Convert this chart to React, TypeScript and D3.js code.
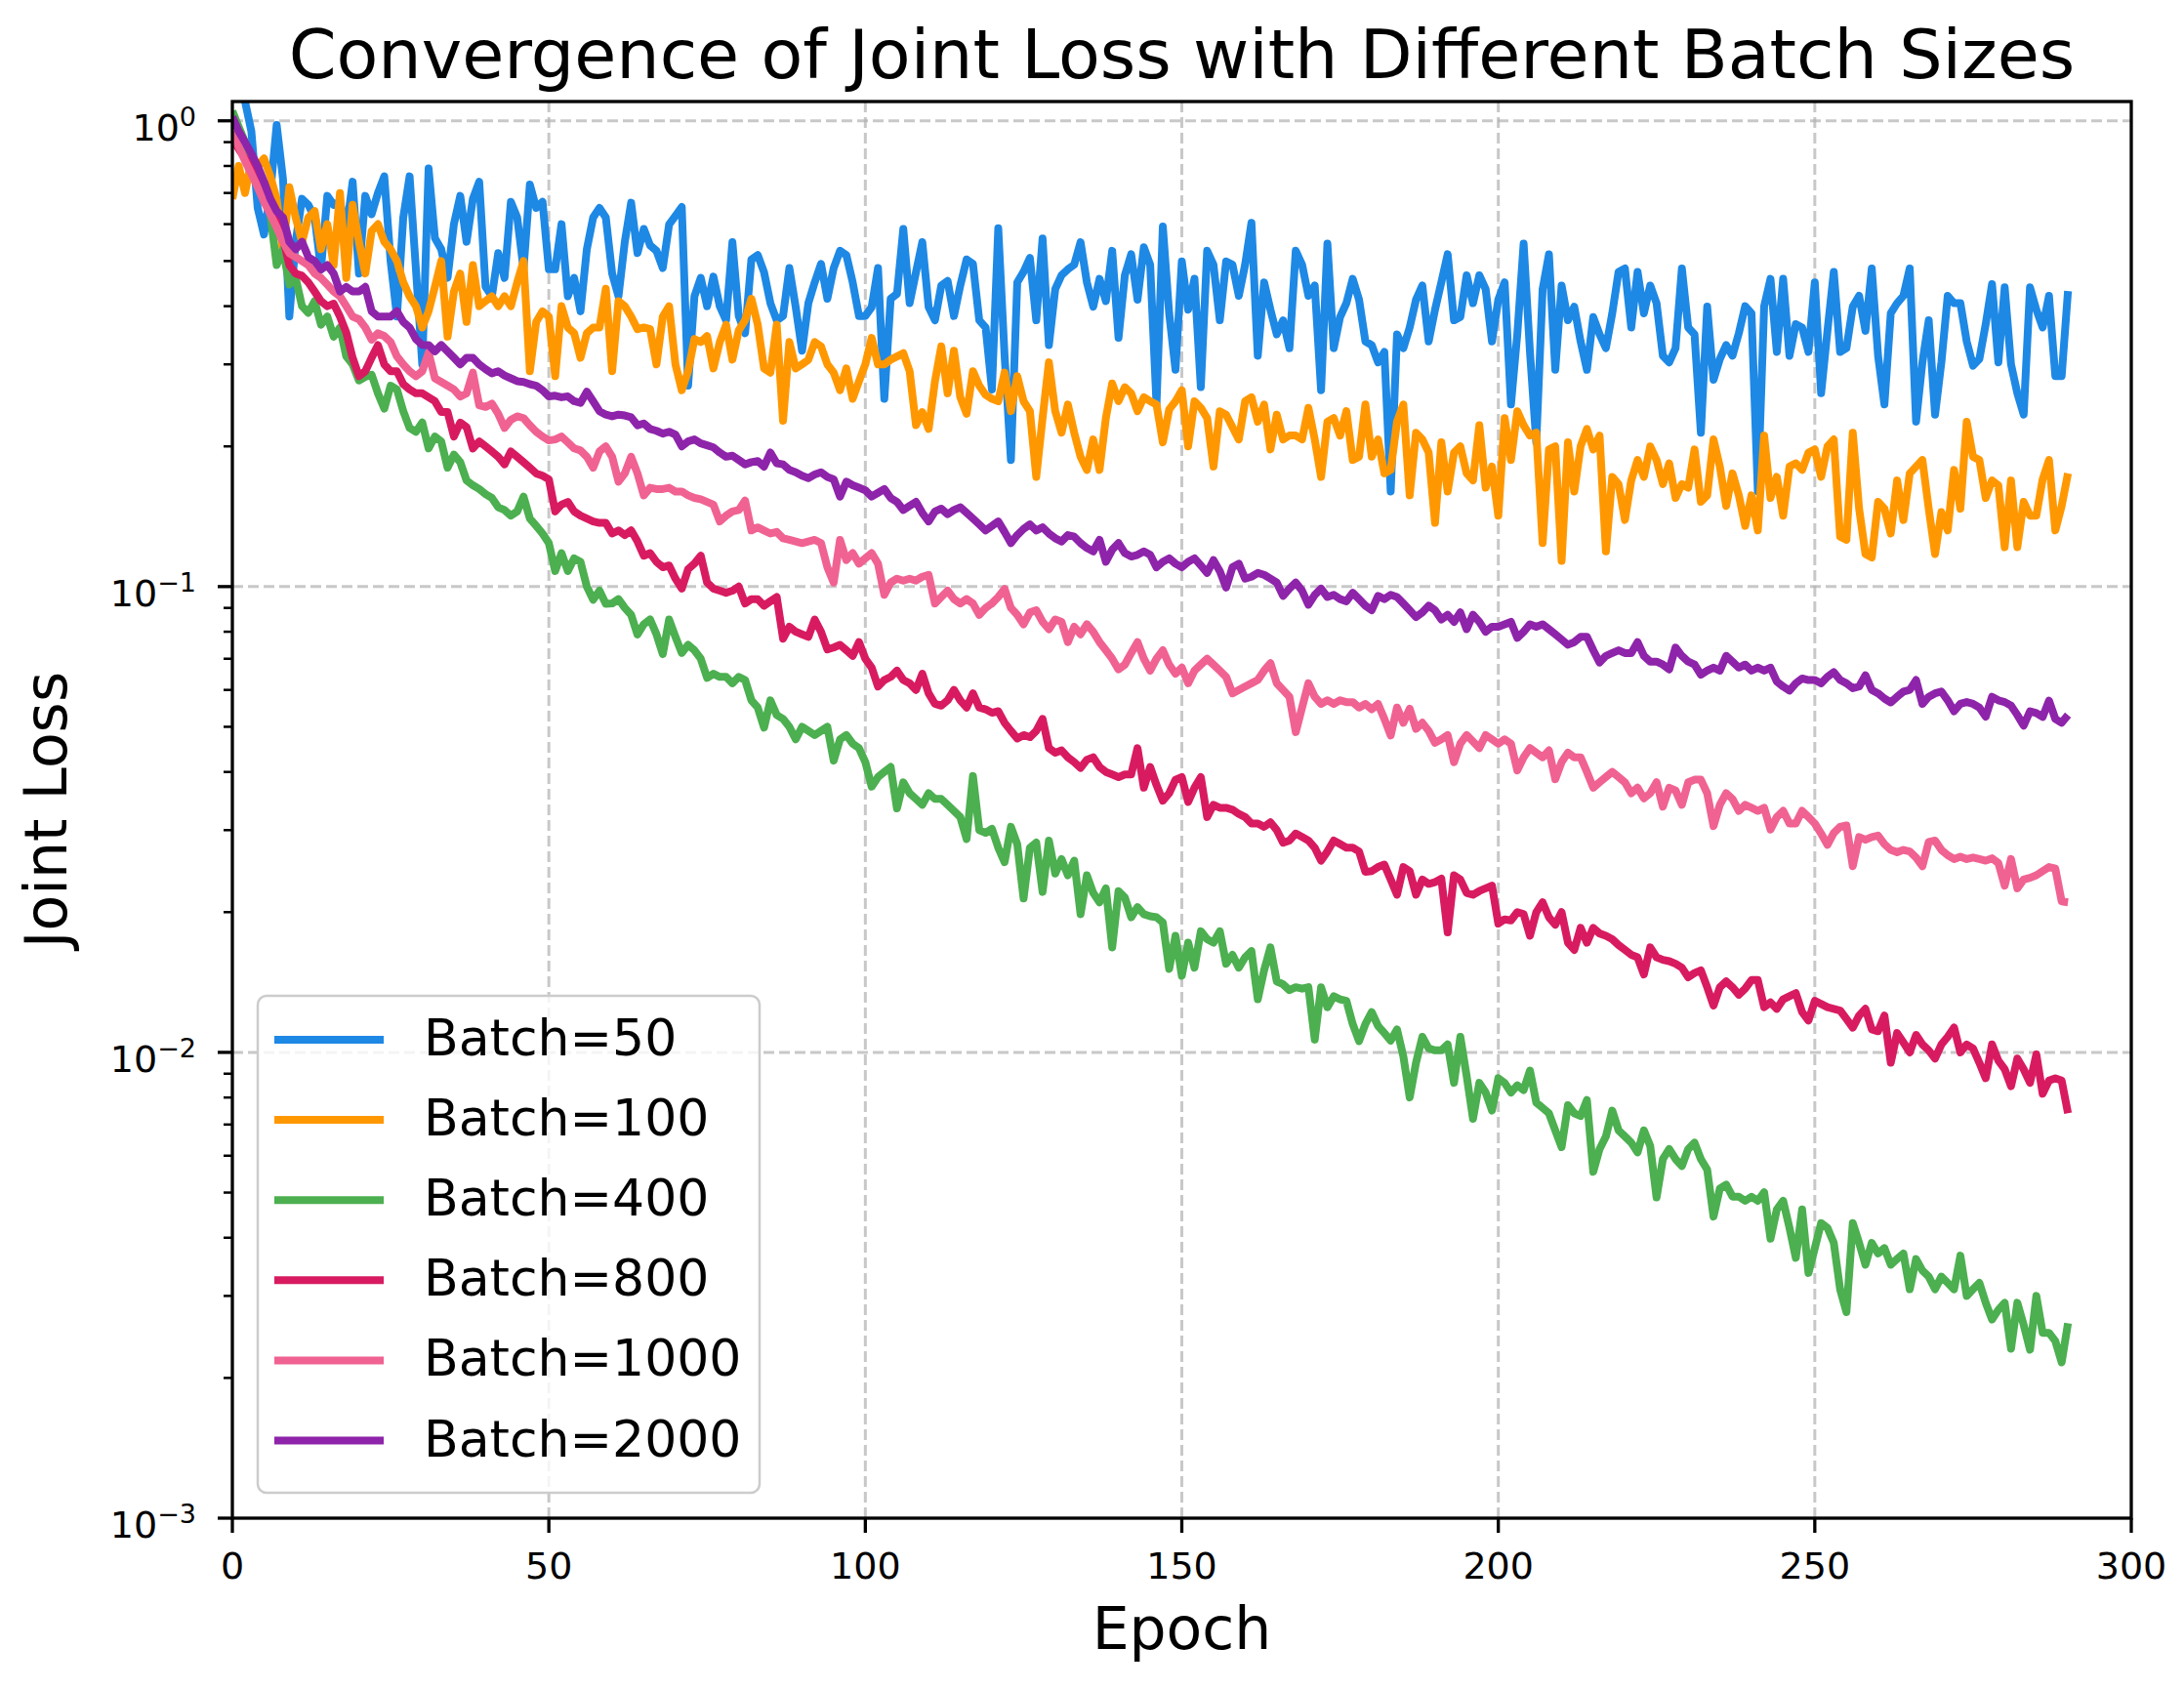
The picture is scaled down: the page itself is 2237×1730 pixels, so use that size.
import * as d3 from 'd3'

// loss per epoch (epochs 0..290)
const batch50 = [
  1.2, 1.25, 1.1, 0.95, 0.65, 0.57, 0.70, 0.98, 0.75, 0.38,
  0.55, 0.68, 0.66, 0.62, 0.48, 0.69, 0.66, 0.67, 0.58, 0.74,
  0.47, 0.69, 0.63, 0.70, 0.76, 0.50, 0.38, 0.62, 0.76, 0.48,
  0.30, 0.79, 0.56, 0.53, 0.46, 0.60, 0.69, 0.55, 0.68, 0.74,
  0.44, 0.42, 0.52, 0.46, 0.67, 0.62, 0.48, 0.73, 0.65, 0.67,
  0.48, 0.48, 0.60, 0.42, 0.46, 0.39, 0.53, 0.62, 0.65, 0.62,
  0.47, 0.42, 0.55, 0.667, 0.52, 0.586, 0.54, 0.526, 0.483, 0.599,
  0.625, 0.653, 0.27, 0.42, 0.46, 0.40, 0.463, 0.40, 0.373, 0.549,
  0.381, 0.35, 0.504, 0.515, 0.473, 0.406, 0.373, 0.381, 0.483, 0.398,
  0.321, 0.406, 0.45, 0.493, 0.415, 0.483, 0.526, 0.515, 0.45, 0.381,
  0.381, 0.398, 0.483, 0.253, 0.415, 0.425, 0.586, 0.406, 0.473, 0.549,
  0.398, 0.373, 0.443, 0.453, 0.381, 0.443, 0.504, 0.493, 0.373, 0.36,
  0.265, 0.588, 0.313, 0.187, 0.45, 0.474, 0.508, 0.373, 0.559, 0.33,
  0.435, 0.466, 0.48, 0.491, 0.549, 0.45, 0.399, 0.458, 0.41, 0.526,
  0.342, 0.466, 0.517, 0.413, 0.535, 0.491, 0.246, 0.593, 0.386, 0.292,
  0.499, 0.393, 0.458, 0.268, 0.526, 0.491, 0.373, 0.499, 0.491, 0.421,
  0.491, 0.604, 0.313, 0.45, 0.393, 0.348, 0.373, 0.325, 0.526, 0.491,
  0.421, 0.443, 0.264, 0.545, 0.325, 0.379, 0.406, 0.458, 0.413, 0.336,
  0.33, 0.303, 0.319, 0.16, 0.348, 0.325, 0.36, 0.413, 0.443, 0.336,
  0.393, 0.45, 0.517, 0.373, 0.379, 0.466, 0.406, 0.466, 0.435, 0.336,
  0.413, 0.45, 0.246, 0.348, 0.545, 0.319, 0.204, 0.435, 0.517, 0.292,
  0.443, 0.373, 0.399, 0.336, 0.292, 0.379, 0.348, 0.325, 0.386, 0.474,
  0.482, 0.36, 0.474, 0.386, 0.443, 0.406, 0.313, 0.303, 0.325, 0.482,
  0.36, 0.348, 0.214, 0.399, 0.278, 0.308, 0.33, 0.313, 0.35, 0.40,
  0.386, 0.16, 0.40, 0.458, 0.319, 0.458, 0.313, 0.366, 0.36, 0.319,
  0.45, 0.26, 0.354, 0.474, 0.319, 0.325, 0.399, 0.421, 0.354, 0.482,
  0.313, 0.246, 0.386, 0.406, 0.421, 0.482, 0.226, 0.303, 0.373, 0.234,
  0.303, 0.421, 0.406, 0.406, 0.336, 0.298, 0.308, 0.366, 0.446, 0.303,
  0.439, 0.30, 0.26, 0.234, 0.439, 0.393, 0.36, 0.421, 0.283, 0.283,
  0.431,
]

const batch100 = [
  0.68, 0.80, 0.70, 0.82, 0.80, 0.83, 0.76, 0.68, 0.52, 0.72,
  0.62, 0.55, 0.62, 0.64, 0.53, 0.60, 0.49, 0.70, 0.46, 0.66,
  0.55, 0.47, 0.58, 0.60, 0.55, 0.53, 0.50, 0.45, 0.42, 0.40,
  0.36, 0.39, 0.44, 0.50, 0.344, 0.43, 0.47, 0.37, 0.49, 0.40,
  0.41, 0.42, 0.40, 0.42, 0.40, 0.45, 0.50, 0.29, 0.37, 0.39,
  0.38, 0.283, 0.40, 0.36, 0.35, 0.31, 0.35, 0.36, 0.36, 0.436,
  0.29, 0.41, 0.40, 0.38, 0.357, 0.36, 0.357, 0.30, 0.38, 0.40,
  0.30, 0.264, 0.29, 0.34, 0.335, 0.345, 0.294, 0.335, 0.365, 0.307,
  0.355, 0.373, 0.415, 0.365, 0.294, 0.288, 0.365, 0.227, 0.335, 0.294,
  0.30, 0.307, 0.335, 0.328, 0.30, 0.288, 0.264, 0.294, 0.253, 0.276,
  0.30, 0.342, 0.30, 0.30, 0.307, 0.312, 0.317, 0.29, 0.222, 0.237,
  0.218, 0.276, 0.328, 0.26, 0.321, 0.255, 0.235, 0.29, 0.27, 0.258,
  0.253, 0.25, 0.288, 0.238, 0.283, 0.25, 0.238, 0.172, 0.23, 0.303,
  0.238, 0.214, 0.246, 0.214, 0.19, 0.178, 0.207, 0.178, 0.23, 0.273,
  0.25, 0.268, 0.26, 0.238, 0.255, 0.25, 0.246, 0.204, 0.24, 0.25,
  0.264, 0.2, 0.25, 0.242, 0.23, 0.181, 0.238, 0.234, 0.22, 0.207,
  0.25, 0.255, 0.226, 0.246, 0.197, 0.234, 0.207, 0.211, 0.211, 0.207,
  0.242, 0.207, 0.172, 0.226, 0.23, 0.211, 0.238, 0.187, 0.19, 0.246,
  0.19, 0.207, 0.175, 0.178, 0.226, 0.246, 0.157, 0.214, 0.207, 0.194,
  0.137, 0.204, 0.16, 0.194, 0.2, 0.175, 0.169, 0.222, 0.163, 0.181,
  0.142, 0.23, 0.187, 0.238, 0.222, 0.211, 0.214, 0.124, 0.197, 0.2,
  0.1135, 0.204, 0.16, 0.2, 0.218, 0.197, 0.211, 0.119, 0.172, 0.166,
  0.139, 0.169, 0.187, 0.172, 0.2, 0.187, 0.166, 0.184, 0.155, 0.166,
  0.163, 0.197, 0.152, 0.157, 0.207, 0.181, 0.149, 0.175, 0.157, 0.135,
  0.157, 0.132, 0.211, 0.155, 0.172, 0.142, 0.181, 0.184, 0.178, 0.194,
  0.197, 0.172, 0.2, 0.207, 0.128, 0.126, 0.214, 0.147, 0.1175, 0.1155,
  0.152, 0.147, 0.13, 0.169, 0.139, 0.175, 0.181, 0.187, 0.147, 0.1175,
  0.1445, 0.132, 0.178, 0.147, 0.226, 0.19, 0.187, 0.155, 0.169, 0.165,
  0.1215, 0.169, 0.1215, 0.152, 0.142, 0.142, 0.17, 0.187, 0.132, 0.149,
  0.175,
]

const batch400 = [
  1.05, 0.97, 0.90, 0.83, 0.76, 0.70, 0.63, 0.49, 0.53, 0.445,
  0.46, 0.40, 0.387, 0.41, 0.365, 0.38, 0.344, 0.36, 0.312, 0.30,
  0.277, 0.282, 0.285, 0.26, 0.241, 0.27, 0.265, 0.238, 0.219, 0.215,
  0.225, 0.198, 0.21, 0.205, 0.18, 0.192, 0.185, 0.169, 0.165, 0.162,
  0.158, 0.155, 0.148, 0.146, 0.142, 0.145, 0.156, 0.14, 0.135, 0.13,
  0.124, 0.108, 0.118, 0.108, 0.115, 0.113, 0.1, 0.0937, 0.098, 0.0918,
  0.092, 0.094, 0.09, 0.087, 0.0789, 0.083, 0.085, 0.079, 0.0716, 0.085,
  0.078, 0.072, 0.075, 0.073, 0.07, 0.0637, 0.065, 0.064, 0.064, 0.062,
  0.064, 0.063, 0.057, 0.055, 0.0498, 0.057, 0.053, 0.052, 0.05, 0.047,
  0.05, 0.049, 0.048, 0.049, 0.05, 0.0423, 0.047, 0.048, 0.046, 0.045,
  0.042, 0.0372, 0.039, 0.04, 0.041, 0.0334, 0.038, 0.036, 0.035, 0.034,
  0.036, 0.035, 0.035, 0.034, 0.033, 0.032, 0.0287, 0.0392, 0.03, 0.0296,
  0.0302, 0.0275, 0.0256, 0.0305, 0.028, 0.0214, 0.0275, 0.0282, 0.0221, 0.0285,
  0.0242, 0.026, 0.024, 0.0258, 0.0198, 0.024, 0.022, 0.021, 0.0225, 0.0168,
  0.0222, 0.0215, 0.0195, 0.0205, 0.0198, 0.0196, 0.0195, 0.019, 0.0151, 0.0178,
  0.0146, 0.0172, 0.0152, 0.0182, 0.0175, 0.0172, 0.0182, 0.0155, 0.0162, 0.0152,
  0.016, 0.0165, 0.013, 0.015, 0.0168, 0.0142, 0.014, 0.0136, 0.0138, 0.0137,
  0.0138, 0.01065, 0.0138, 0.0125, 0.0132, 0.013, 0.0129, 0.0115, 0.01057, 0.0115,
  0.0122, 0.0114, 0.011, 0.0106, 0.0112, 0.0098, 0.008, 0.0095, 0.0108, 0.0102,
  0.0101, 0.0101, 0.0104, 0.0086, 0.0108, 0.0089, 0.0072, 0.0086, 0.0082, 0.0075,
  0.0088, 0.0086, 0.0082, 0.0085, 0.0083, 0.00914, 0.0078, 0.0076, 0.0074, 0.0068,
  0.00626, 0.0077, 0.0074, 0.0073, 0.0079, 0.00554, 0.0062, 0.0066, 0.0075, 0.0068,
  0.0066, 0.0064, 0.0061, 0.0068, 0.0063, 0.00488, 0.0059, 0.0062, 0.0059, 0.0057,
  0.0062, 0.0064, 0.0059, 0.0056, 0.00444, 0.0051, 0.0052, 0.0049, 0.0049, 0.0048,
  0.0049, 0.0048, 0.00501, 0.00398, 0.0046, 0.0048, 0.0042, 0.00362, 0.0046, 0.00336,
  0.0038, 0.0043, 0.0042, 0.0039, 0.0031, 0.00277, 0.0043, 0.0039, 0.0035, 0.0039,
  0.0037, 0.0038, 0.0035, 0.0036, 0.0037, 0.0031, 0.0036, 0.0034, 0.0033, 0.0031,
  0.0033, 0.0032, 0.0031, 0.00366, 0.003, 0.0031, 0.0032, 0.0029, 0.00267, 0.0028,
  0.0029, 0.00231, 0.0029, 0.0026, 0.0023, 0.003, 0.0025, 0.0025, 0.0024, 0.00216,
  0.00262,
]

const batch800 = [
  0.92, 0.87, 0.83, 0.80, 0.76, 0.70, 0.66, 0.63, 0.56, 0.49,
  0.47, 0.465, 0.45, 0.43, 0.41, 0.40, 0.405, 0.38, 0.351, 0.31,
  0.283, 0.29, 0.31, 0.33, 0.30, 0.29, 0.29, 0.272, 0.265, 0.26,
  0.26, 0.255, 0.25, 0.237, 0.237, 0.21, 0.225, 0.22, 0.198, 0.205,
  0.20, 0.195, 0.19, 0.183, 0.195, 0.19, 0.185, 0.18, 0.175, 0.173,
  0.17, 0.145, 0.15, 0.152, 0.145, 0.142, 0.14, 0.138, 0.137, 0.137,
  0.13, 0.132, 0.129, 0.132, 0.125, 0.1165, 0.118, 0.113, 0.11, 0.111,
  0.104, 0.099, 0.109, 0.112, 0.1165, 0.102, 0.099, 0.098, 0.097, 0.098,
  0.1, 0.092, 0.094, 0.094, 0.091, 0.093, 0.095, 0.0773, 0.082, 0.08,
  0.079, 0.078, 0.085, 0.08, 0.0733, 0.074, 0.075, 0.073, 0.071, 0.076,
  0.07, 0.067, 0.061, 0.063, 0.064, 0.066, 0.063, 0.062, 0.06, 0.065,
  0.059, 0.056, 0.0555, 0.057, 0.06, 0.057, 0.055, 0.059, 0.055, 0.0545,
  0.0536, 0.054, 0.051, 0.049, 0.0472, 0.048, 0.0475, 0.049, 0.052, 0.045,
  0.044, 0.0445, 0.043, 0.042, 0.0408, 0.0425, 0.043, 0.041, 0.04, 0.0395,
  0.039, 0.0395, 0.0395, 0.045, 0.037, 0.041, 0.0375, 0.0347, 0.036, 0.0385,
  0.039, 0.0345, 0.037, 0.039, 0.032, 0.034, 0.0335, 0.0335, 0.0332, 0.0325,
  0.032, 0.031, 0.031, 0.0305, 0.0312, 0.03, 0.0282, 0.0285, 0.0295, 0.029,
  0.0285, 0.0275, 0.0258, 0.027, 0.0285, 0.028, 0.0275, 0.0275, 0.027, 0.0244,
  0.0245, 0.025, 0.0253, 0.0235, 0.0218, 0.025, 0.0245, 0.0218, 0.0235, 0.023,
  0.0232, 0.0236, 0.0181, 0.024, 0.0235, 0.022, 0.0218, 0.0222, 0.0225, 0.0228,
  0.0189, 0.0193, 0.0192, 0.02, 0.0198, 0.0178, 0.02, 0.021, 0.0195, 0.0188,
  0.02, 0.0172, 0.0166, 0.0185, 0.0172, 0.0185, 0.018, 0.0178, 0.0175, 0.017,
  0.0166, 0.0162, 0.016, 0.0147, 0.0168, 0.016, 0.0158, 0.0157, 0.0155, 0.0152,
  0.0145, 0.0148, 0.015, 0.0138, 0.0126, 0.0138, 0.0142, 0.0138, 0.0133, 0.0137,
  0.0143, 0.0143, 0.0125, 0.0128, 0.0124, 0.013, 0.0132, 0.0134, 0.0122, 0.0117,
  0.0129, 0.0127, 0.0125, 0.0124, 0.0123, 0.0118, 0.0113, 0.012, 0.0124, 0.0112,
  0.0111, 0.012, 0.0095, 0.011, 0.0105, 0.01, 0.0109, 0.0104, 0.0101, 0.0097,
  0.0104, 0.0108, 0.0113, 0.01, 0.0104, 0.0102, 0.0095, 0.0088, 0.0104, 0.0096,
  0.0092, 0.00846, 0.0097, 0.0092, 0.0086, 0.0099, 0.00815, 0.0087, 0.0088, 0.0087,
  0.0074,
]

const batch1000 = [
  0.95, 0.88, 0.82, 0.77, 0.72, 0.67, 0.63, 0.59, 0.55, 0.52,
  0.51, 0.50, 0.49, 0.47, 0.46, 0.445, 0.43, 0.42, 0.40, 0.38,
  0.375, 0.36, 0.339, 0.35, 0.345, 0.335, 0.312, 0.30, 0.29, 0.283,
  0.29, 0.318, 0.28, 0.275, 0.27, 0.265, 0.256, 0.26, 0.288, 0.245,
  0.243, 0.247, 0.235, 0.219, 0.228, 0.232, 0.23, 0.222, 0.215, 0.21,
  0.206, 0.207, 0.21, 0.204, 0.198, 0.196, 0.19, 0.18, 0.195, 0.20,
  0.19, 0.168, 0.175, 0.19, 0.175, 0.157, 0.163, 0.162, 0.162, 0.163,
  0.16, 0.16, 0.157, 0.155, 0.154, 0.152, 0.15, 0.138, 0.142, 0.145,
  0.146, 0.153, 0.132, 0.134, 0.132, 0.13, 0.131, 0.127, 0.126, 0.125,
  0.124, 0.125, 0.126, 0.124, 0.11, 0.102, 0.126, 0.114, 0.118, 0.112,
  0.115, 0.118, 0.112, 0.096, 0.102, 0.104, 0.103, 0.104, 0.103, 0.105,
  0.106, 0.092, 0.095, 0.098, 0.094, 0.092, 0.094, 0.092, 0.087, 0.09,
  0.092, 0.095, 0.0988, 0.09, 0.087, 0.083, 0.088, 0.089, 0.084, 0.081,
  0.085, 0.084, 0.076, 0.082, 0.079, 0.083, 0.08, 0.076, 0.073, 0.07,
  0.0664, 0.068, 0.072, 0.076, 0.07, 0.066, 0.07, 0.073, 0.068, 0.065,
  0.067, 0.062, 0.066, 0.068, 0.07, 0.068, 0.066, 0.064, 0.059, 0.06,
  0.061, 0.062, 0.063, 0.066, 0.0685, 0.062, 0.06, 0.058, 0.0487, 0.055,
  0.062, 0.058, 0.056, 0.057, 0.056, 0.057, 0.0565, 0.0565, 0.055, 0.056,
  0.0545, 0.056, 0.052, 0.0479, 0.055, 0.051, 0.0547, 0.0495, 0.051, 0.049,
  0.0462, 0.047, 0.048, 0.042, 0.046, 0.048, 0.0465, 0.045, 0.048, 0.047,
  0.046, 0.047, 0.046, 0.0403, 0.043, 0.045, 0.044, 0.043, 0.0445, 0.0386,
  0.042, 0.044, 0.043, 0.043, 0.04, 0.037, 0.038, 0.039, 0.04, 0.039,
  0.038, 0.036, 0.037, 0.0351, 0.036, 0.038, 0.0337, 0.037, 0.0365, 0.034,
  0.038, 0.0385, 0.0385, 0.036, 0.0306, 0.034, 0.036, 0.035, 0.033, 0.034,
  0.0335, 0.033, 0.0335, 0.0301, 0.032, 0.033, 0.031, 0.031, 0.033, 0.032,
  0.031, 0.0295, 0.0279, 0.0296, 0.0305, 0.0307, 0.0251, 0.029, 0.0286, 0.029,
  0.0292, 0.028, 0.0272, 0.0269, 0.0272, 0.027, 0.0262, 0.0251, 0.0283, 0.0285,
  0.0272, 0.0265, 0.026, 0.0263, 0.026, 0.0262, 0.026, 0.0258, 0.0261, 0.0255,
  0.0228, 0.026, 0.0225, 0.0235, 0.0237, 0.024, 0.0245, 0.025, 0.0248, 0.0211,
  0.021,
]

const batch2000 = [
  1.02, 0.95, 0.90, 0.85, 0.80, 0.74, 0.68, 0.64, 0.62, 0.55,
  0.53, 0.55, 0.51, 0.50, 0.48, 0.49, 0.47, 0.43, 0.44, 0.43,
  0.43, 0.44, 0.39, 0.38, 0.38, 0.38, 0.39, 0.37, 0.36, 0.34,
  0.33, 0.33, 0.32, 0.33, 0.32, 0.31, 0.30, 0.31, 0.31, 0.30,
  0.293, 0.287, 0.29, 0.284, 0.28, 0.276, 0.275, 0.272, 0.27, 0.264,
  0.256, 0.257, 0.255, 0.256, 0.25, 0.248, 0.262, 0.25, 0.238, 0.234,
  0.232, 0.234, 0.233, 0.231, 0.222, 0.224, 0.218, 0.216, 0.213, 0.215,
  0.212, 0.200, 0.205, 0.207, 0.203, 0.201, 0.199, 0.194, 0.190, 0.191,
  0.187, 0.183, 0.185, 0.186, 0.181, 0.194, 0.184, 0.183, 0.178, 0.176,
  0.173, 0.171, 0.174, 0.176, 0.172, 0.170, 0.156, 0.168, 0.165, 0.163,
  0.161, 0.156, 0.159, 0.162, 0.155, 0.152, 0.146, 0.149, 0.152, 0.144,
  0.138, 0.145, 0.147, 0.143, 0.146, 0.148, 0.144, 0.140, 0.136, 0.132,
  0.135, 0.138, 0.131, 0.124, 0.129, 0.133, 0.136, 0.132, 0.134, 0.130,
  0.127, 0.125, 0.129, 0.128, 0.124, 0.121, 0.119, 0.126, 0.113, 0.120,
  0.124, 0.118, 0.116, 0.117, 0.119, 0.117, 0.110, 0.113, 0.115, 0.112,
  0.110, 0.113, 0.115, 0.111, 0.107, 0.114, 0.108, 0.0995, 0.110, 0.112,
  0.104, 0.105, 0.107, 0.106, 0.104, 0.102, 0.0955, 0.099, 0.102, 0.098,
  0.0914, 0.096, 0.099, 0.095, 0.096, 0.094, 0.093, 0.097, 0.094, 0.091,
  0.089, 0.0955, 0.094, 0.096, 0.095, 0.092, 0.089, 0.086, 0.088, 0.091,
  0.089, 0.085, 0.087, 0.084, 0.088, 0.081, 0.087, 0.084, 0.080, 0.082,
  0.082, 0.083, 0.084, 0.0776, 0.080, 0.083, 0.082, 0.083, 0.081, 0.079,
  0.077, 0.075, 0.076, 0.078, 0.078, 0.073, 0.0687, 0.071, 0.072, 0.073,
  0.072, 0.072, 0.076, 0.071, 0.069, 0.069, 0.068, 0.0664, 0.074, 0.071,
  0.069, 0.068, 0.0647, 0.066, 0.067, 0.066, 0.071, 0.069, 0.067, 0.068,
  0.066, 0.067, 0.066, 0.067, 0.0625, 0.061, 0.0598, 0.062, 0.0635, 0.063,
  0.063, 0.062, 0.064, 0.0655, 0.063, 0.062, 0.0605, 0.061, 0.0645, 0.060,
  0.059, 0.0575, 0.0564, 0.058, 0.0595, 0.060, 0.063, 0.056, 0.058, 0.059,
  0.0595, 0.057, 0.054, 0.056, 0.0565, 0.056, 0.055, 0.0526, 0.058, 0.057,
  0.0565, 0.0555, 0.053, 0.0503, 0.054, 0.0535, 0.0525, 0.0569, 0.052, 0.051,
  0.053,
]

const SERIES = [
  { label: 'Batch=50', color: '#1E88E5', values: batch50 },
  { label: 'Batch=100', color: '#FF9800', values: batch100 },
  { label: 'Batch=400', color: '#4CAF50', values: batch400 },
  { label: 'Batch=800', color: '#D81B60', values: batch800 },
  { label: 'Batch=1000', color: '#F06292', values: batch1000 },
  { label: 'Batch=2000', color: '#8E24AA', values: batch2000 },
]

const xTicks = [0, 50, 100, 150, 200, 250, 300]
const yDecades = [1e-3, 1e-2, 1e-1, 1]
const yExp = ['−3', '−2', '−1', '0']

const W = 2237, H = 1730
const m = { l: 238, r: 2183, t: 104, b: 1555 }
const FONT = 'DejaVu Sans, sans-serif'

export default function App() {
  const x = d3.scaleLinear().domain([0, 300]).range([m.l, m.r])
  const y = d3.scaleLog().domain([1e-3, 1.1]).range([m.b, m.t])
  const line = d3.line<number>().x((_, i) => x(i)).y(v => y(v)).curve(d3.curveLinear)

  const minor = y.ticks().filter(t => !yDecades.some(d => Math.abs(d - t) / d < 1e-6))

  return (
    <svg width={W} height={H} style={{ position: 'absolute', left: 0, top: 0, background: '#fff' }}
      fontFamily={FONT}>
      <defs>
        <clipPath id="plot">
          <rect x={m.l} y={m.t} width={m.r - m.l} height={m.b - m.t} />
        </clipPath>
      </defs>
      <rect x={0} y={0} width={W} height={H} fill="#fff" />

      {/* grid */}
      <g stroke="#b0b0b0" strokeOpacity={0.7} strokeWidth={3} strokeDasharray="11,5">
        {xTicks.slice(1, -1).map(t => <line key={'gx' + t} x1={x(t)} x2={x(t)} y1={m.t} y2={m.b} />)}
        {yDecades.slice(1).map(t => <line key={'gy' + t} x1={m.l} x2={m.r} y1={y(t)} y2={y(t)} />)}
      </g>

      {/* series */}
      <g clipPath="url(#plot)" fill="none" strokeWidth={8} strokeLinejoin="round" strokeLinecap="butt">
        {SERIES.map(s => <path key={s.label} d={line(s.values) ?? ''} stroke={s.color} />)}
      </g>

      {/* frame */}
      <rect x={m.l} y={m.t} width={m.r - m.l} height={m.b - m.t} fill="none" stroke="#000" strokeWidth={3.3} />

      {/* x axis */}
      <g>
        {xTicks.map(t => (
          <g key={'xt' + t}>
            <line x1={x(t)} x2={x(t)} y1={m.b} y2={m.b + 15} stroke="#000" strokeWidth={3.3} />
            <text x={x(t)} y={1617} textAnchor="middle" fontSize={38}>{t}</text>
          </g>
        ))}
      </g>

      {/* y axis */}
      <g>
        {yDecades.map((t, i) => (
          <g key={'yt' + t}>
            <line x1={m.l - 15} x2={m.l} y1={y(t)} y2={y(t)} stroke="#000" strokeWidth={3.3} />
            <text x={201} y={y(t) + 20} textAnchor="end" fontSize={38}>
              10<tspan dy={-15} fontSize={27}>{yExp[i]}</tspan>
            </text>
          </g>
        ))}
        {minor.map(t => (
          <line key={'ym' + t} x1={m.l - 9} x2={m.l} y1={y(t)} y2={y(t)} stroke="#000" strokeWidth={2.5} />
        ))}
      </g>

      {/* labels */}
      <text x={(m.l + m.r) / 2} y={80} textAnchor="middle" fontSize={70}>
        Convergence of Joint Loss with Different Batch Sizes
      </text>
      <text x={(m.l + m.r) / 2} y={1689} textAnchor="middle" fontSize={60}>Epoch</text>
      <text transform={`translate(68,${(m.t + m.b) / 2}) rotate(-90)`} textAnchor="middle" fontSize={60}>
        Joint Loss
      </text>

      {/* legend */}
      <g>
        <rect x={264} y={1020} width={514} height={509} rx={9} fill="#fff" fillOpacity={0.8}
          stroke="#cccccc" strokeWidth={2.5} />
        {SERIES.map((s, i) => {
          const ry = 1065 + i * 82.1
          return (
            <g key={'lg' + s.label}>
              <line x1={281} x2={393} y1={ry} y2={ry} stroke={s.color} strokeWidth={8} />
              <text x={434} y={ry + 16} fontSize={52}>{s.label}</text>
            </g>
          )
        })}
      </g>
    </svg>
  )
}
